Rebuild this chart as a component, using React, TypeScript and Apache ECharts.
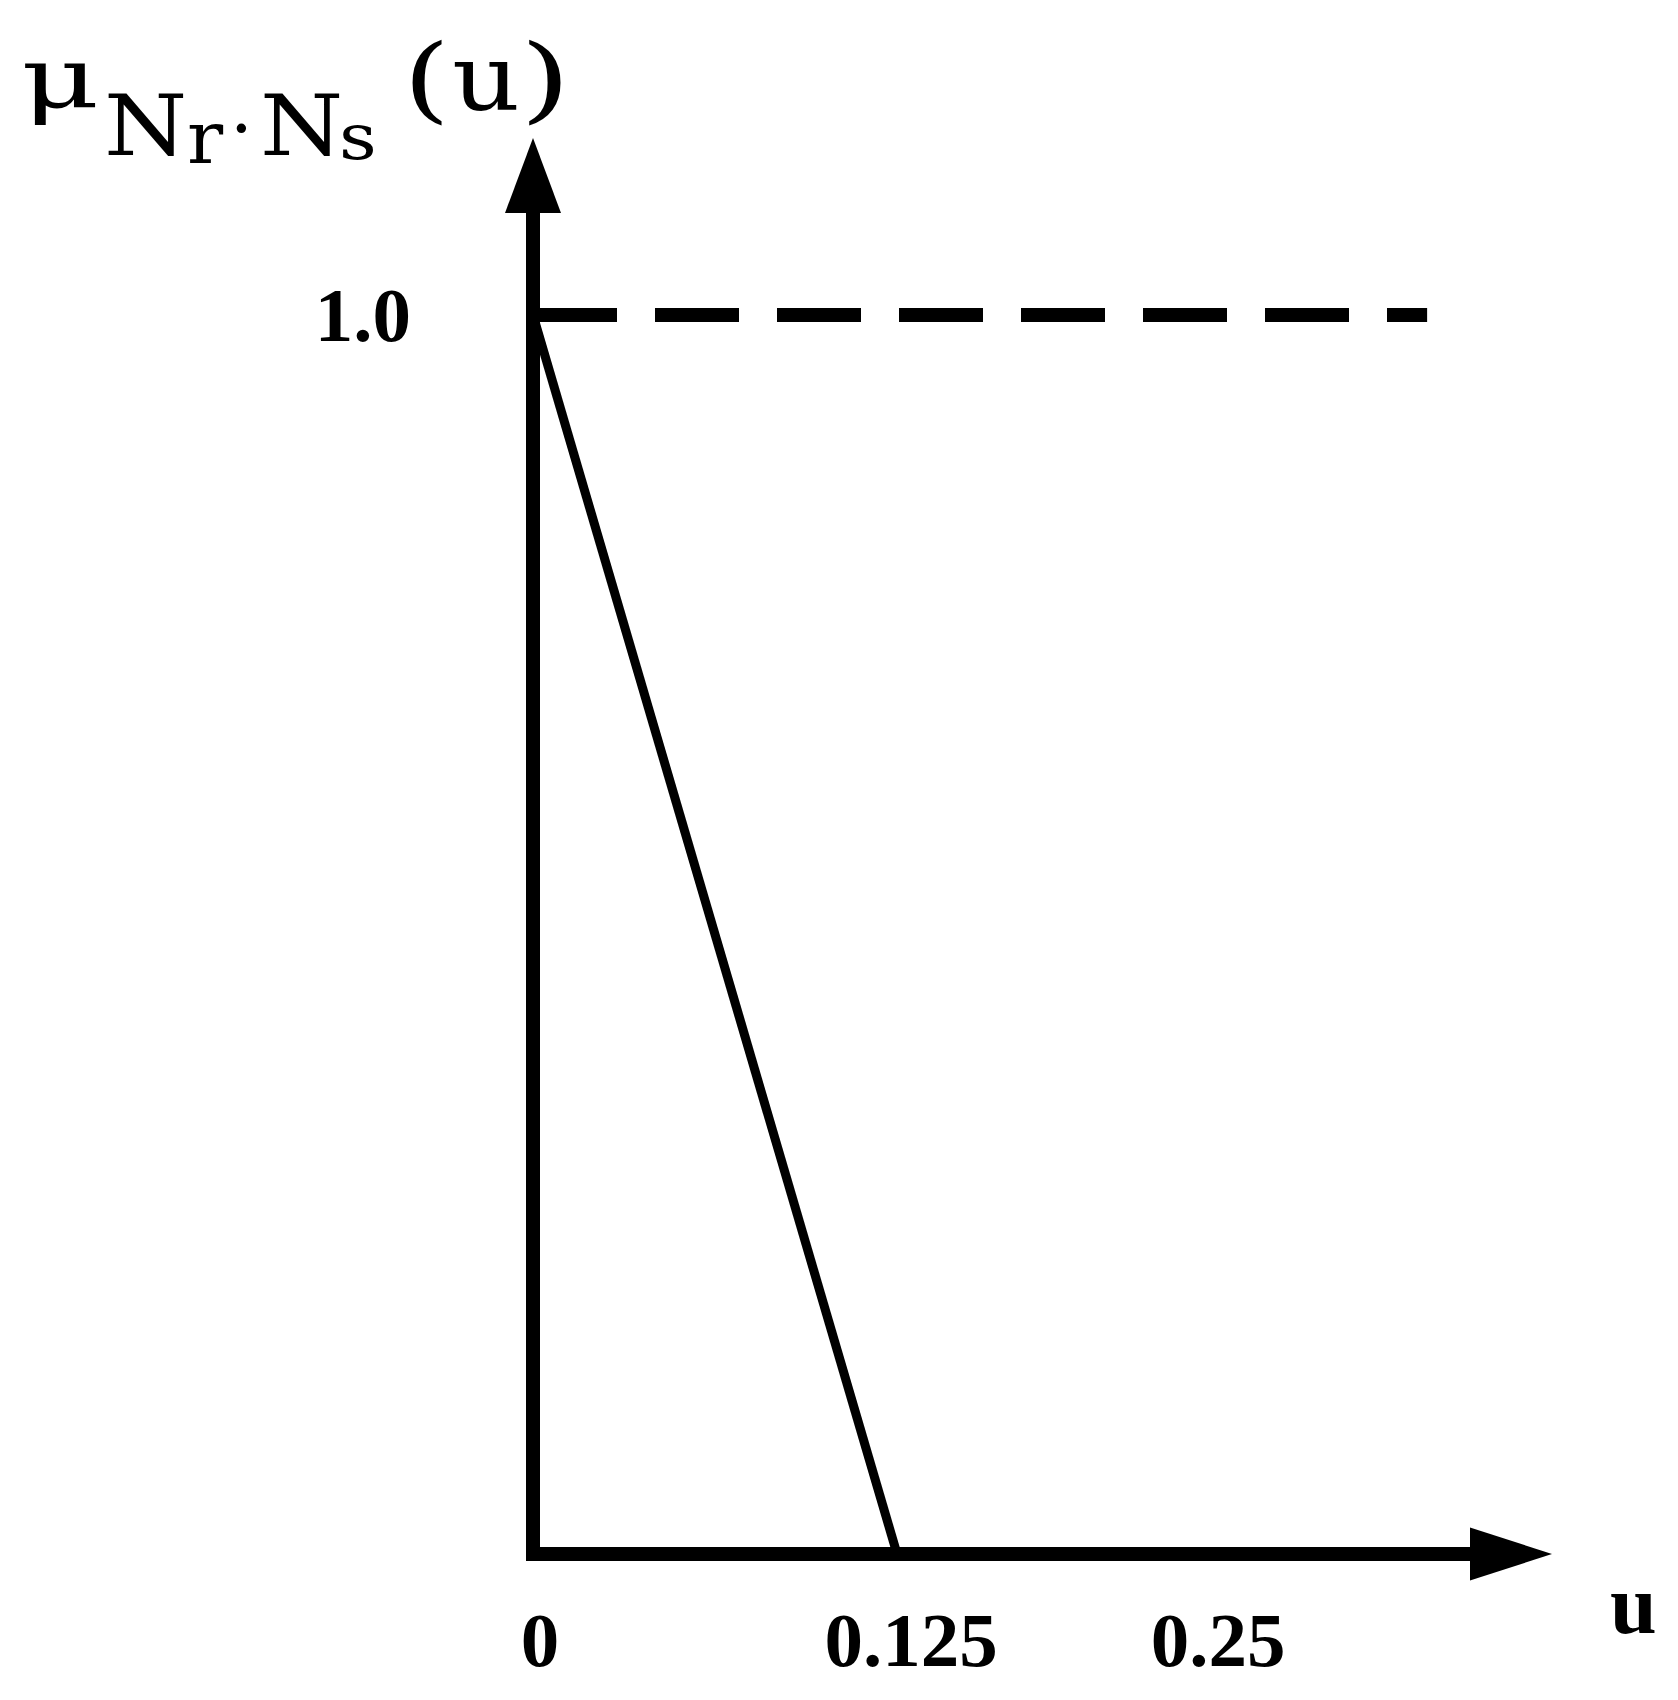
import React, { useEffect, useRef } from 'react';
import * as echarts from 'echarts';

// membership function (solid line)
const membershipU = [0, 0.125];
const membershipMu = [1, 0];
// upper bound (dashed line)
const upperU = [0, 0.307];
const upperMu = [1, 1];
// tick labels
const xTickValues = [0, 0.125, 0.25];
const xTickLabels = ['0', '0.125', '0.25'];
const yTickValues = [1];
const yTickLabels = ['1.0'];
const xAxisName = 'u';
// y-axis title pieces: μ_{N_r·N_s}(u)
const titlePieces = ['μ', 'N', 'r', '·', 'N', 's', '(', 'u', ')'];

const FONT = '"Liberation Serif", "Times New Roman", serif';
const TITLE_FONT = '"DejaVu Serif", "Liberation Serif", serif';

export default function App() {
  const ref = useRef<HTMLDivElement>(null);

  useEffect(() => {
    document.body.style.margin = '0';
    if (!ref.current) return;
    const chart = echarts.init(ref.current, undefined, { renderer: 'svg' });

    const richKeys = ['a', 'b', 'c'];
    const labelBase = { fontSize: 77, fontWeight: 'bold', fontFamily: FONT, color: '#000' };

    // title piece layout: [x, baseline y, font size, align, scaleX]
    const layout: [number, number, number, string, number][] = [
      [21, 108, 85, 'left', 1.42],
      [104, 156, 85, 'left', 1.12],
      [187, 163, 72, 'left', 1.05],
      [241.5, 155, 72, 'center', 1],
      [260, 156, 85, 'left', 1.12],
      [339, 160, 64, 'left', 1.15],
      [403, 112, 93, 'left', 1.3],
      [452, 111, 92, 'left', 1.15],
      [520, 112, 93, 'left', 1.4],
    ];
    const graphics = titlePieces.map((t, i) => {
      const [x, base, fs, align, sx] = layout[i];
      return {
        type: 'text',
        x,
        y: base - 0.357 * fs,
        scaleX: sx,
        silent: true,
        style: {
          text: t,
          font: `normal ${fs}px ${TITLE_FONT}`,
          fill: '#000',
          textAlign: align,
          textVerticalAlign: 'middle',
        },
      };
    });

    const option: any = {
      animation: false,
      backgroundColor: '#fff',
      grid: {
        left: 533,
        right: 167,
        top: 175.5,
        bottom: 146,
        containLabel: false,
        outerBoundsMode: 'none',
      },
      xAxis: {
        type: 'value',
        min: 0,
        max: 0.3358,
        axisLine: {
          show: true,
          onZero: true,
          symbol: ['none', 'triangle'],
          symbolSize: [53, 82],
          lineStyle: { color: '#000', width: 14, cap: 'square' },
        },
        axisTick: { show: false },
        splitLine: { show: false },
        axisLabel: {
          customValues: xTickValues,
          margin: 47,
          ...labelBase,
          formatter: (v: number, i: number) => {
            const idx = xTickValues.indexOf(v);
            const k = idx >= 0 ? idx : i;
            return `{${richKeys[k]}|${xTickLabels[k]}}`;
          },
          rich: {
            a: { ...labelBase, padding: [0, 0, 0, 14] },
            b: { ...labelBase, padding: [0, 0, 0, 28] },
            c: { ...labelBase, padding: [0, 86, 0, 0] },
          },
        },
        name: `{n|${xAxisName}}`,
        nameLocation: 'end',
        nameGap: 99,
        nameTextStyle: {
          fontSize: 84,
          fontWeight: 'bold',
          fontFamily: FONT,
          color: '#000',
          rich: {
            n: {
              fontSize: 84,
              fontWeight: 'bold',
              fontFamily: FONT,
              color: '#000',
              padding: [100, 0, 0, 0],
            },
          },
        },
      },
      yAxis: {
        type: 'value',
        min: 0,
        max: 1.1126,
        axisLine: {
          show: true,
          onZero: true,
          symbol: ['none', 'triangle'],
          symbolSize: [56, 75],
          lineStyle: { color: '#000', width: 14, cap: 'square' },
        },
        axisTick: { show: false },
        splitLine: { show: false },
        axisLabel: {
          customValues: yTickValues,
          margin: 122,
          ...labelBase,
          formatter: (v: number) => {
            const idx = yTickValues.indexOf(v);
            return yTickLabels[idx >= 0 ? idx : 0];
          },
        },
      },
      series: [
        {
          type: 'line',
          data: membershipU.map((u, i) => [u, membershipMu[i]]),
          symbol: 'none',
          lineStyle: { color: '#000', width: 9 },
          clip: false,
          z: 3,
        },
        {
          type: 'line',
          data: upperU.map((u, i) => [u, upperMu[i]]),
          symbol: 'none',
          lineStyle: { color: '#000', width: 14, type: [84, 38], cap: 'butt' },
          clip: false,
          z: 3,
        },
      ],
      graphic: graphics,
    };

    chart.setOption(option);
    return () => chart.dispose();
  }, []);

  return (
    <div
      ref={ref}
      style={{ position: 'absolute', left: 0, top: 0, width: 1678, height: 1700, background: '#fff' }}
    />
  );
}
